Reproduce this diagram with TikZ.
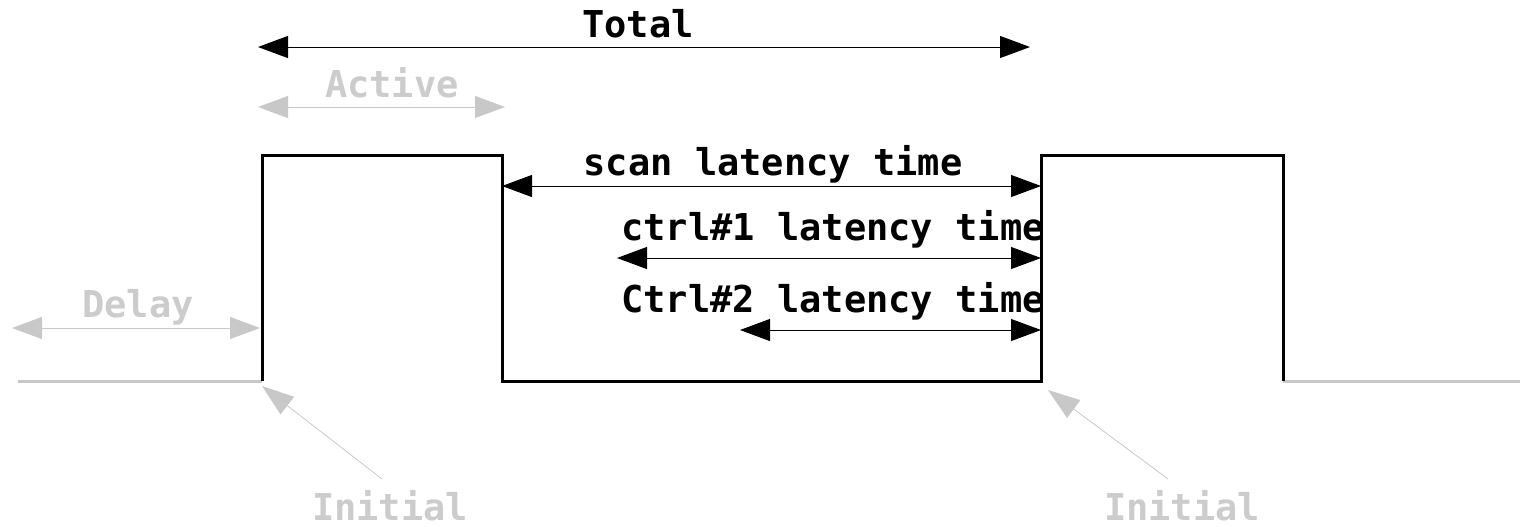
\documentclass[tikz,border=0pt]{standalone}
\usepackage{fontspec}
\setmonofont{DejaVu Sans Mono}
\usetikzlibrary{arrows.meta}
\definecolor{lgray}{HTML}{C8C8C8}
\definecolor{tgray}{HTML}{CCCCCC}
\begin{document}
\begin{tikzpicture}[x=0.5pt,y=-0.5pt,
  lbl/.style={font=\ttfamily\bfseries\fontsize{18.5pt}{20pt}\selectfont, inner sep=0pt, anchor=base},
  graylbl/.style={lbl, text=tgray},
  dimarrow/.style={line width=0.5pt, {Triangle[length=15pt,width=11pt]}-{Triangle[length=15pt,width=11pt]}},
  graydim/.style={dimarrow, draw=lgray},
  wave/.style={line width=1.5pt, line join=miter},
  graywave/.style={line width=1.5pt, draw=lgray},
  pointer/.style={line width=0.4pt, draw=lgray, -{Triangle[length=16pt,width=11pt]}}]
\useasboundingbox (0,0) rectangle (1520,526);
% waveform corners
\coordinate (l0) at (18,381);
\coordinate (p1a) at (262,381);
\coordinate (p1b) at (262,155);
\coordinate (p1c) at (502,155);
\coordinate (p1d) at (502,381);
\coordinate (p2a) at (1041,381);
\coordinate (p2b) at (1041,155);
\coordinate (p2c) at (1283,155);
\coordinate (p2d) at (1283,381);
\coordinate (r0) at (1520,381);
\draw[graywave] (l0) -- (p1a);
\draw[graywave] (p2d) -- (r0);
\draw[wave] (p1a) -- (p1b) -- (p1c) -- (p1d) -- (p2a) -- (p2b) -- (p2c) -- (p2d);
% dimension arrows
\coordinate (tl) at (258,47); \coordinate (tr) at (1030,47);
\draw[dimarrow] (tl) -- (tr);
\node[lbl] (total) at (638,37) {Total};
\coordinate (al) at (258,107); \coordinate (ar) at (505,107);
\draw[graydim] (al) -- (ar);
\node[graylbl] (active) at (392,97) {Active};
\coordinate (sl) at (502,186); \coordinate (sr) at (1041,186);
\draw[dimarrow] (sl) -- (sr);
\node[lbl] (scan) at (773,175) {scan latency time};
\coordinate (c1l) at (617,258); \coordinate (c1r) at (1041,258);
\draw[dimarrow] (c1l) -- (c1r);
\node[lbl] (ctrl1) at (833,240) {ctrl\#1 latency time};
\coordinate (c2l) at (740,330); \coordinate (c2r) at (1041,330);
\draw[dimarrow] (c2l) -- (c2r);
\node[lbl] (ctrl2) at (833,312) {Ctrl\#2 latency time};
\coordinate (dl) at (12,328); \coordinate (dr) at (260,328);
\draw[graydim] (dl) -- (dr);
\node[graylbl] (delay) at (138,317) {Delay};
% initial pointers
\node[graylbl] (init1) at (390,520) {Initial};
\node[graylbl] (init2) at (1182,520) {Initial};
\coordinate (i1s) at (382,479); \coordinate (i1e) at (262,386);
\coordinate (i2s) at (1168,479); \coordinate (i2e) at (1048,390);
\draw[pointer] (i1s) -- (i1e);
\draw[pointer] (i2s) -- (i2e);
\end{tikzpicture}
\end{document}
